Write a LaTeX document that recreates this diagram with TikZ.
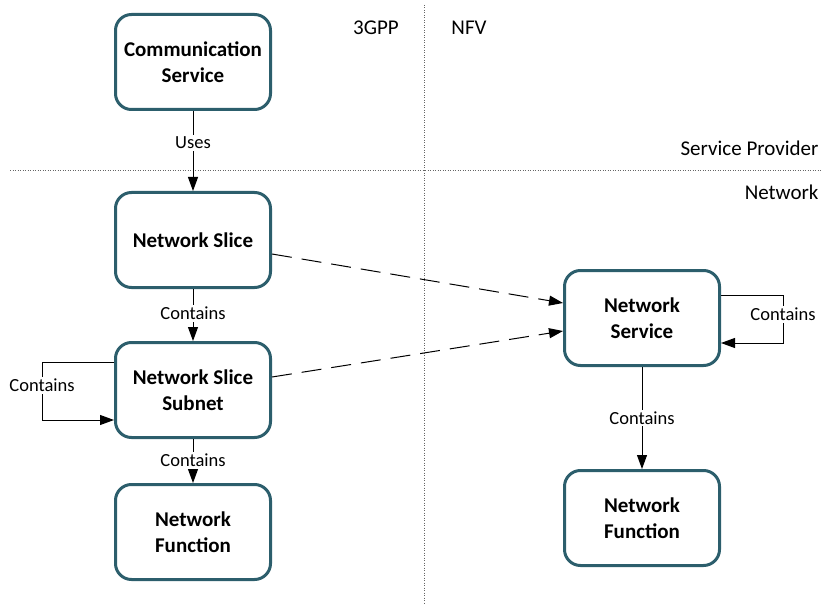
\documentclass[tikz,border=0pt]{standalone}
\usepackage{fontspec}
\setmainfont{Carlito}
\usetikzlibrary{arrows.meta}
\definecolor{boxteal}{RGB}{44,94,108}
\newcommand{\fnword}{Func\kern0pt tion}

\begin{document}
\begin{tikzpicture}[x=1pt,y=-1pt]
		\tikzstyle{blk}=[draw=boxteal, line width=3pt, rounded corners=16pt, minimum width=155pt, minimum height=95pt, align=center, font=\fontsize{21}{26}\selectfont\bfseries];
		\tikzstyle{lbl}=[fill=white, inner sep=2pt, font=\fontsize{18.5}{22}\selectfont];
		\tikzstyle{area}=[font=\fontsize{21}{25}\selectfont];
		\tikzstyle{arr}=[line width=1pt, -{Triangle[length=14pt,width=10pt]}];
		\tikzstyle{sep}=[gray!80!black, line width=0.8pt, dash pattern=on 1pt off 1.5pt];

		\useasboundingbox (0,0) rectangle (824,604);

		% layer separators
		\draw[sep] (10,170) -- (822,170);
		\draw[sep] (424,5) -- (424,604);
		\node[area] (gpp) at (376,28) {3GPP};
		\node[area] (nfv) at (469,28) {NFV};
		\node[area, anchor=east] (provider) at (822,148) {Service Provider};
		\node[area, anchor=east] (network) at (822,192) {Network};

		% 3GPP side
		\node[blk] (comm) at (193,62) {Communication\\Service};
		\node[blk] (slice) at (193,240) {Network Slice};
		\node[blk] (subnet) at (193,390) {Network Slice\\Subnet};
		\node[blk] (nfleft) at (193,532) {Network\\\fnword};

		% NFV side
		\node[blk] (nsvc) at (642,318) {Network\\Service};
		\node[blk] (nfright) at (642,518) {Network\\\fnword};

		\draw[arr] (comm) -- node[lbl, pos=0.4] {Uses} (slice);
		\draw[arr] (slice) -- node[lbl, pos=0.47] {Contains} (subnet);
		\draw[arr] (subnet) -- node[lbl, pos=0.48] {Contains} (nfleft);
		\draw[arr] (nsvc) -- node[lbl] {Contains} (nfright);

		\draw[arr] ([yshift=28pt]subnet.west) -- ++(-72,0) |- node[lbl, pos=0.2] {Contains} ([yshift=-30pt]subnet.west);
		\draw[arr] ([yshift=23pt]nsvc.east) -- ++(62,0) |- node[lbl, pos=0.2] {Contains} ([yshift=-25pt]nsvc.east);

		\draw[arr, dash pattern=on 20pt off 10pt] ([yshift=-14pt]slice.east) -- ([yshift=15pt]nsvc.west);
		\draw[arr, dash pattern=on 20pt off 10pt] ([yshift=13pt]subnet.east) -- ([yshift=-13pt]nsvc.west);
	\end{tikzpicture}
\end{document}
